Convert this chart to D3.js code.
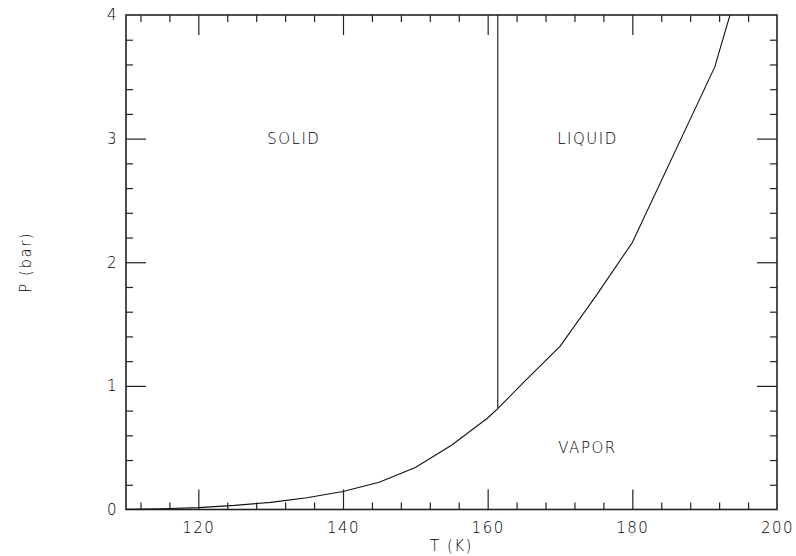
<!DOCTYPE html>
<html>
<head>
<meta charset="utf-8">
<script src="https://cdn.jsdelivr.net/npm/d3@7"></script>
<style>
  body { margin: 0; background: #fff; }
  svg text { font-family: "DejaVu Sans", sans-serif; font-weight: 200; fill: #000; letter-spacing: 1.5px; }
  .axis path.domain { display: none; }
  .axis line { stroke: #222; stroke-width: 1.2; }
</style>
</head>
<body>
<div id="chart"></div>
<script>
// vapor pressure / sublimation curve (T in K, P in bar)
const curveT = [110, 115, 120, 125, 130, 135, 140, 145, 150, 155, 160, 161.4, 165, 170, 175, 180, 191.4, 195];
const curveP = [0.002, 0.006, 0.015, 0.033, 0.058, 0.095, 0.145, 0.22, 0.34, 0.52, 0.74, 0.816, 1.03, 1.32, 1.73, 2.16, 3.58, 4.3];
// melting line
const meltT = [161.4, 161.4];
const meltP = [0.816, 4];
// region labels
const regionNames = ["SOLID", "LIQUID", "VAPOR"];
const regionT = [133.2, 173.8, 173.8];
const regionP = [3, 3, 0.5];
// tick values
const xMajor = [120, 140, 160, 180];
const xLabels = [120, 140, 160, 180, 200];
const xMinor = d3.range(112, 200, 4).filter(d => d % 20 !== 0);
const yMajor = [1, 2, 3];
const yLabels = [0, 1, 2, 3, 4];
const yMinor = d3.range(1, 20).map(d => d / 5).filter(d => Math.abs(d - Math.round(d)) > 1e-6);

const width = 796, height = 556;
const margin = {left: 126, right: 19, top: 15, bottom: 46.5};
const w = width - margin.left - margin.right;
const h = height - margin.top - margin.bottom;

const svg = d3.select("#chart").append("svg")
  .attr("width", width)
  .attr("height", height);

const g = svg.append("g").attr("transform", "translate(" + margin.left + "," + margin.top + ")");

const x = d3.scaleLinear().domain([110, 200]).range([0, w]);
const y = d3.scaleLinear().domain([0, 4]).range([h, 0]);

// ticks, all pointing inward
function addAxis(axis, tx, ty) {
  g.append("g").attr("class", "axis").attr("transform", "translate(" + tx + "," + ty + ")").call(axis);
}
addAxis(d3.axisBottom(x).tickValues(xMinor).tickSize(-7).tickFormat(""), 0, h);
addAxis(d3.axisBottom(x).tickValues(xMajor).tickSize(-20).tickFormat(""), 0, h);
addAxis(d3.axisTop(x).tickValues(xMinor).tickSize(-7).tickFormat(""), 0, 0);
addAxis(d3.axisTop(x).tickValues(xMajor).tickSize(-20).tickFormat(""), 0, 0);
addAxis(d3.axisLeft(y).tickValues(yMinor).tickSize(-7).tickFormat(""), 0, 0);
addAxis(d3.axisLeft(y).tickValues(yMajor).tickSize(-20).tickFormat(""), 0, 0);
addAxis(d3.axisRight(y).tickValues(yMinor).tickSize(-7).tickFormat(""), w, 0);
addAxis(d3.axisRight(y).tickValues(yMajor).tickSize(-20).tickFormat(""), w, 0);

// tick labels
const xl = g.append("g").attr("class", "axis").attr("transform", "translate(0," + h + ")")
  .call(d3.axisBottom(x).tickValues(xLabels).tickSize(0).tickPadding(12.5).tickFormat(d3.format("d")));
xl.selectAll("text").style("font-size", "15px").attr("fill", "#000");
const yl = g.append("g").attr("class", "axis")
  .call(d3.axisLeft(y).tickValues(yLabels).tickSize(0).tickPadding(8).tickFormat(d3.format("d")));
yl.selectAll("text").style("font-size", "15px").attr("fill", "#000");

// frame
g.append("rect")
  .attr("width", w)
  .attr("height", h)
  .attr("fill", "none")
  .attr("stroke", "#222")
  .attr("stroke-width", 1.6);

// curves
g.append("clipPath").attr("id", "clip").append("rect").attr("width", w).attr("height", h);

const line = d3.line()
  .x(d => x(d[0]))
  .y(d => y(d[1]));

g.append("path")
  .attr("d", line(curveT.map((t, i) => [t, curveP[i]])))
  .attr("clip-path", "url(#clip)")
  .attr("fill", "none")
  .attr("stroke", "#111")
  .attr("stroke-width", 1.1);

g.append("path")
  .attr("d", line(meltT.map((t, i) => [t, meltP[i]])))
  .attr("fill", "none")
  .attr("stroke", "#111")
  .attr("stroke-width", 1.1);

// region labels
g.selectAll(".region").data(regionNames).enter().append("text")
  .attr("class", "region")
  .attr("x", (d, i) => x(regionT[i]))
  .attr("y", (d, i) => y(regionP[i]))
  .attr("dy", "0.36em")
  .attr("text-anchor", "middle")
  .style("font-size", "15px")
  .text(d => d);

// axis titles
svg.append("text")
  .attr("x", margin.left + w / 2)
  .attr("y", 551)
  .attr("text-anchor", "middle")
  .style("font-size", "15px")
  .text("T (K)");

svg.append("text")
  .attr("transform", "translate(31," + (margin.top + h / 2) + ") rotate(-90)")
  .attr("text-anchor", "middle")
  .style("font-size", "15px")
  .text("P (bar)");
</script>
</body>
</html>
